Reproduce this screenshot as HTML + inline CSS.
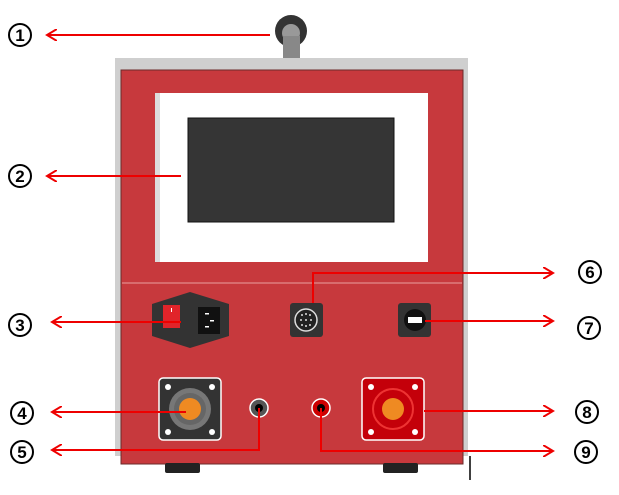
<!DOCTYPE html>
<html><head><style>
body{margin:0;background:#fff;width:619px;height:490px;overflow:hidden}
text{font-family:"Liberation Sans","DejaVu Sans",sans-serif;font-weight:bold}
</style></head><body>
<svg width="619" height="490" viewBox="0 0 619 490" xmlns="http://www.w3.org/2000/svg">
<defs><marker id="a" markerWidth="12" markerHeight="12" refX="10" refY="6" orient="auto" markerUnits="userSpaceOnUse"><path d="M0,0 L10,6 L0,12" fill="none" stroke="#e00" stroke-width="2"/></marker></defs>
<!-- handle -->
<circle cx="291" cy="31" r="16" fill="#333"/>
<circle cx="291" cy="33" r="9" fill="#999"/>
<rect x="283" y="36" width="17" height="32" fill="#888"/>
<!-- body -->
<rect x="115" y="58" width="353" height="398" fill="#cfcfcf"/>
<rect x="121" y="70" width="342" height="394" fill="#c7393d" stroke="#6b2a2a" stroke-width="1"/>
<rect x="155" y="93" width="273" height="169" fill="#fff"/>
<rect x="155" y="93" width="5" height="169" fill="#ddd"/>
<rect x="188" y="118" width="206" height="104" fill="#353535" stroke="#111" stroke-width="1"/>
<line x1="122" y1="283" x2="462" y2="283" stroke="#e8a0a0" stroke-width="1"/>
<rect x="165" y="463" width="35" height="10" rx="2" fill="#222"/>
<rect x="383" y="463" width="35" height="10" rx="2" fill="#222"/>
<line x1="470" y1="456" x2="470" y2="480" stroke="#000" stroke-width="1.5"/>
<!-- switch -->
<polygon points="190,292 229,304 229,336 190,348 152,336 152,304" fill="#333"/>
<rect x="163" y="305" width="17" height="23" fill="#e1242a"/>
<rect x="171" y="308" width="1" height="4" fill="#fff"/>
<rect x="198" y="307" width="22" height="27" fill="#111"/>
<rect x="205" y="313" width="4" height="1.5" fill="#fff"/><rect x="210" y="320" width="4" height="1.5" fill="#fff"/><rect x="205" y="326" width="4" height="1.5" fill="#fff"/>
<!-- din -->
<rect x="290" y="303" width="33" height="34" rx="3" fill="#333"/>
<circle cx="306" cy="320" r="11" fill="#222" stroke="#ddd" stroke-width="1.5"/>
<g fill="#ddd"><circle cx="302" cy="315" r="1"/><circle cx="306" cy="314" r="1"/><circle cx="310" cy="315" r="1"/><circle cx="301" cy="320" r="1"/><circle cx="306" cy="320" r="1"/><circle cx="311" cy="320" r="1"/><circle cx="302" cy="325" r="1"/><circle cx="306" cy="326" r="1"/><circle cx="310" cy="325" r="1"/></g>
<!-- usb -->
<rect x="398" y="303" width="33" height="34" rx="3" fill="#333"/>
<circle cx="415" cy="320" r="11" fill="#111"/>
<rect x="408" y="317" width="14" height="6" fill="#fff"/>
<!-- left square -->
<rect x="159" y="378" width="62" height="62" rx="4" fill="#333" stroke="#fff" stroke-width="1.5"/>
<circle cx="190" cy="409" r="21" fill="#777"/><circle cx="190" cy="409" r="16" fill="#666"/>
<circle cx="190" cy="409" r="11" fill="#ef8a22"/>
<g fill="#fff"><circle cx="168" cy="387" r="3"/><circle cx="212" cy="387" r="3"/><circle cx="168" cy="432" r="3"/><circle cx="212" cy="432" r="3"/></g>
<!-- jacks -->
<circle cx="259" cy="408" r="9" fill="#555" stroke="#fff" stroke-width="1.5"/><circle cx="259" cy="408" r="4" fill="#000"/>
<circle cx="321" cy="408" r="9" fill="#c00" stroke="#fff" stroke-width="1.5"/><circle cx="321" cy="408" r="4" fill="#000"/>
<!-- right square -->
<rect x="362" y="378" width="62" height="62" rx="4" fill="#c4000a" stroke="#fff" stroke-width="1.5"/>
<circle cx="393" cy="409" r="20" fill="none" stroke="#e33" stroke-width="2"/>
<circle cx="393" cy="409" r="11" fill="#ef8a22"/>
<g fill="#fff"><circle cx="371" cy="387" r="3"/><circle cx="415" cy="387" r="3"/><circle cx="371" cy="432" r="3"/><circle cx="415" cy="432" r="3"/></g>
<!-- arrows -->
<g stroke="#e00" stroke-width="2" fill="none" marker-end="url(#a)">
<line x1="270" y1="35" x2="47" y2="35"/>
<line x1="181" y1="176" x2="47" y2="176"/>
<line x1="181" y1="322" x2="52" y2="322"/>
<line x1="186" y1="412" x2="52" y2="412"/>
<polyline points="259,408 259,450 52,450"/>
<polyline points="313,303 313,273 553,273"/>
<line x1="425" y1="321" x2="553" y2="321"/>
<line x1="424" y1="411" x2="553" y2="411"/>
<polyline points="321,408 321,451 553,451"/>
</g>
<!-- labels -->
<g font-size="17" text-anchor="middle">
<g fill="none" stroke="#000" stroke-width="2">
<circle cx="20" cy="35" r="11"/><circle cx="20" cy="176" r="11"/><circle cx="20" cy="325" r="11"/><circle cx="22" cy="413" r="11"/><circle cx="22" cy="452" r="11"/>
<circle cx="590" cy="272" r="11"/><circle cx="589" cy="328" r="11"/><circle cx="587" cy="412" r="11"/><circle cx="586" cy="452" r="11"/>
</g>
<text x="20" y="41">1</text><text x="20" y="182">2</text><text x="20" y="331">3</text><text x="22" y="419">4</text><text x="22" y="458">5</text>
<text x="590" y="278">6</text><text x="589" y="334">7</text><text x="587" y="418">8</text><text x="586" y="458">9</text>
</g>
</svg>
</body></html>
